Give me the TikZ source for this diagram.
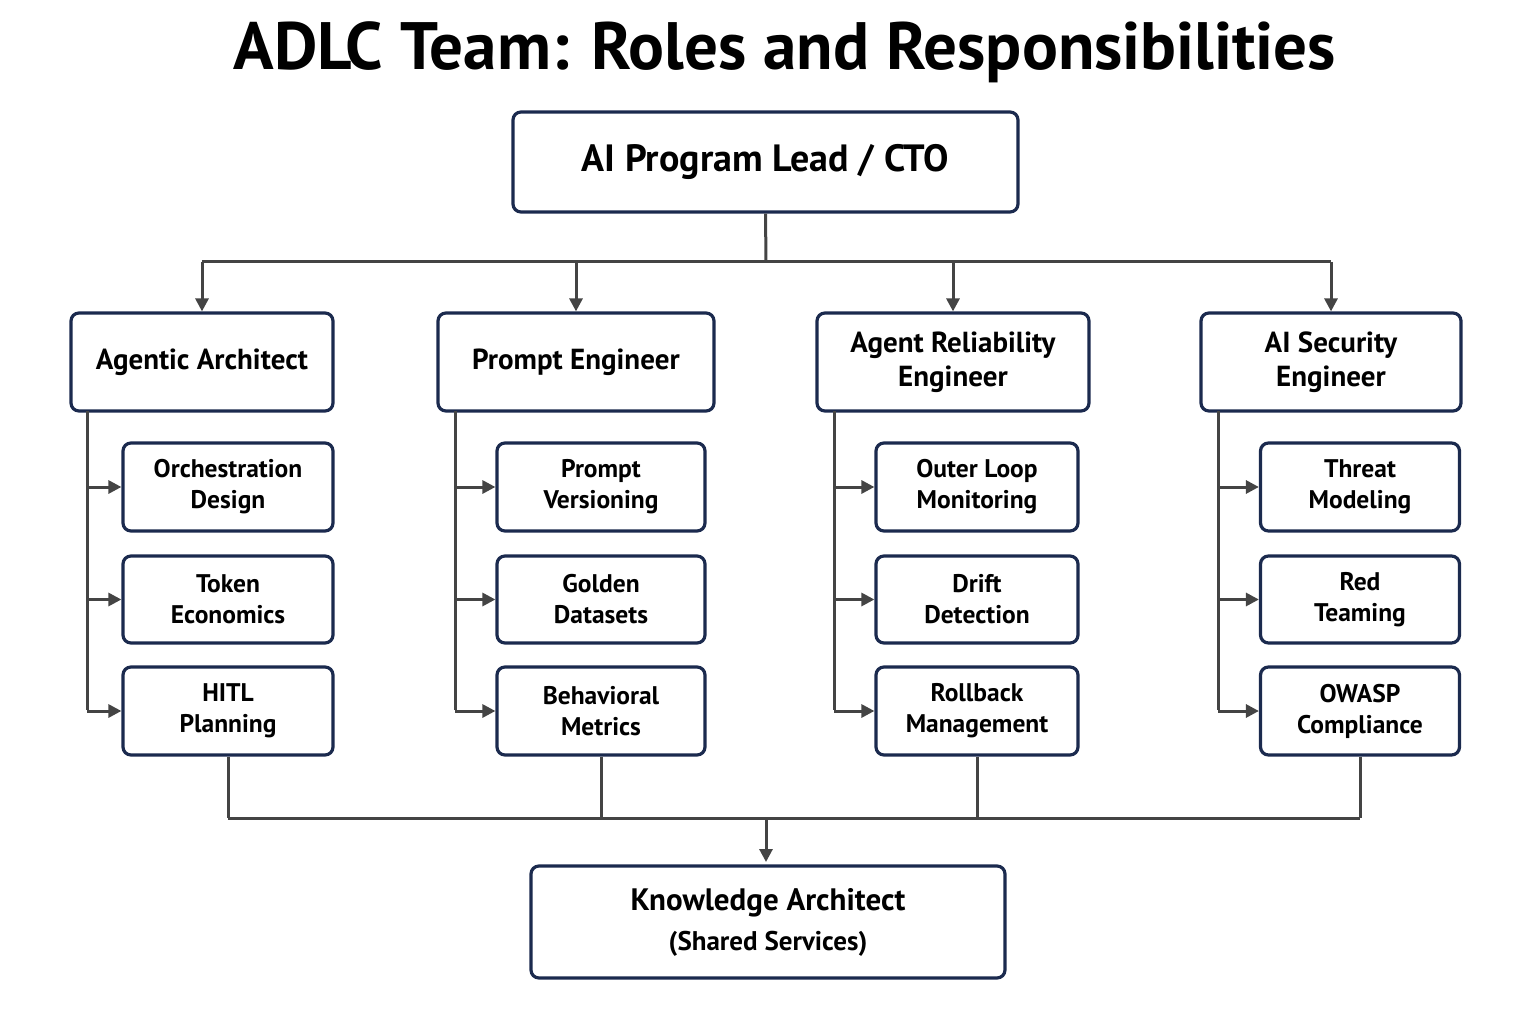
\documentclass[tikz,border=0pt]{standalone}
\usepackage{fontspec}
\setmainfont{PT Sans}
\usetikzlibrary{arrows.meta,positioning}
\definecolor{navy}{HTML}{1B2A4E}
\definecolor{ln}{HTML}{444444}
\begin{document}
\begin{tikzpicture}[x=1pt,y=-1pt,
  box/.style={draw=navy,line width=3.2pt,rounded corners=8pt,fill=white,align=center,font=\bfseries,text=black,inner sep=0pt},
  role/.style={box,font=\fontsize{29}{34}\selectfont\bfseries},
  sub/.style={box,font=\fontsize{25.5}{31}\selectfont\bfseries},
  con/.style={draw=ln,line width=3pt},
  arr/.style={con,-{Triangle[length=13pt,width=13pt]}}]
\useasboundingbox (0,0) rectangle (1536,1024);
\node[font=\fontsize{67}{72}\selectfont\bfseries] (title) at (785,52) {ADLC Team: Roles and Responsibilities};
\node[box,minimum width=505pt,minimum height=100pt,font=\fontsize{38}{42}\selectfont\bfseries] (top) at (765.5,162) {AI Program Lead / CTO};
\node[role,minimum width=262pt,minimum height=98pt] (r1) at (202,362) {Agentic Architect};
\node[role,minimum width=276pt,minimum height=98pt] (r2) at (576,362) {Prompt Engineer};
\node[role,minimum width=272pt,minimum height=98pt] (r3) at (953,362) {Agent Reliability\\Engineer};
\node[role,minimum width=260pt,minimum height=98pt] (r4) at (1331,362) {AI Security\\Engineer};
\foreach \i/\x/\w/\a/\b/\c in {1/228/210/Orchestration\\Design/Token\\Economics/HITL\\Planning,
  2/601/208/Prompt\\Versioning/Golden\\Datasets/Behavioral\\Metrics,
  3/977/202/Outer Loop\\Monitoring/Drift\\Detection/Rollback\\Management,
  4/1360/199/Threat\\Modeling/Red\\Teaming/OWASP\\Compliance}{
  \node[sub,minimum width=\w pt,minimum height=88pt] (s\i a) at (\x,487) {\a};
  \node[sub,minimum width=\w pt,minimum height=87pt] (s\i b) at (\x,599.5) {\b};
  \node[sub,minimum width=\w pt,minimum height=88pt] (s\i c) at (\x,711) {\c};
}
\node[box,minimum width=474pt,minimum height=112pt,font=\fontsize{31}{40}\selectfont\bfseries] (kb) at (768,922) {Knowledge Architect\\{\fontsize{27}{30}\selectfont (Shared Services)}};
\coordinate (hb) at (766,262);
\draw[con] (top.south) -- (hb);
\draw[con] (202,262) -- (1331,262);
\foreach \i/\x in {1/202,2/576,3/953,4/1331}{\draw[arr] (\x,262) -- (r\i.north);}
\foreach \i/\x in {1/87,2/455,3/834,4/1218}{
  \draw[con] (\x,411) -- (\x,710);
  \foreach \k in {a,b,c}{\draw[arr] (\x,0 |- s\i\k.west) -- (s\i\k.west);}
}
\foreach \i in {1,2,3,4}{\draw[con] (s\i c.south) -- (s\i c.south |- 0,818);}
\draw[con] (228,818) -- (1360,818);
\draw[arr] (766,818) -- (766,862);
\end{tikzpicture}
\end{document}
